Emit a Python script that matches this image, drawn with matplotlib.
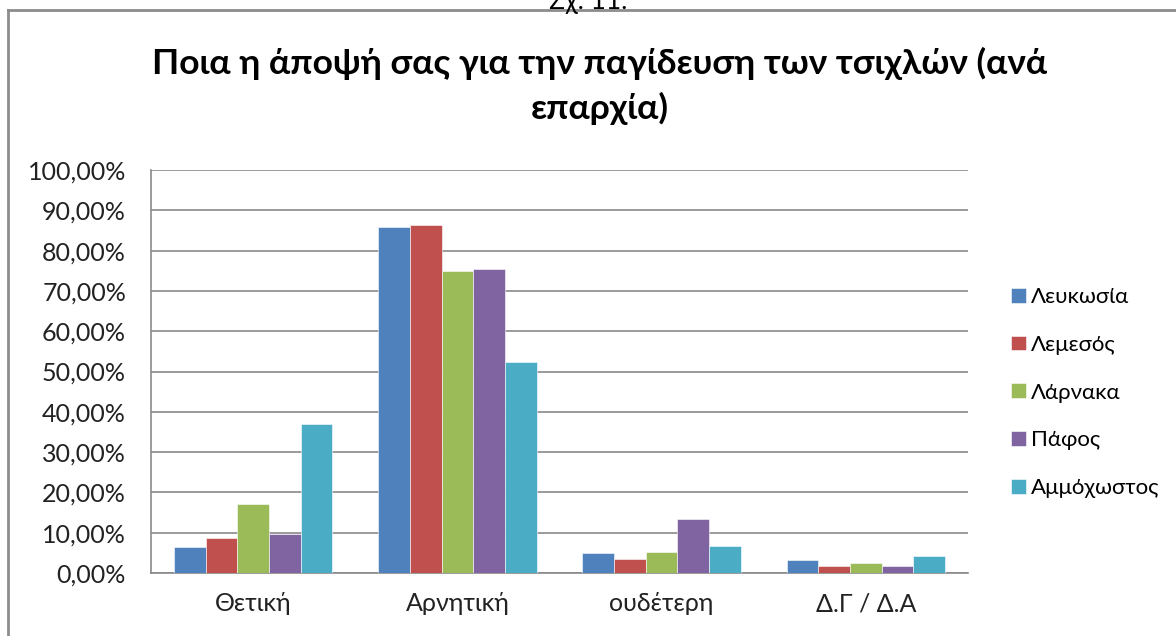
import matplotlib
matplotlib.use("Agg")
import matplotlib.pyplot as plt
import numpy as np
from matplotlib.ticker import FuncFormatter
from matplotlib.lines import Line2D

categories = ["Θετική", "Αρνητική", "ουδέτερη", "Δ.Γ / Δ.Α"]
series_names = ["Λευκωσία", "Λεμεσός", "Λάρνακα", "Πάφος", "Αμμόχωστος"]
lefkosia = [6.5, 85.8, 4.9, 3.2]
lemesos = [8.6, 86.3, 3.5, 1.8]
larnaka = [17.2, 75.0, 5.2, 2.4]
pafos = [9.6, 75.4, 13.3, 1.7]
ammochostos = [37.0, 52.4, 6.7, 4.2]
series_values = [lefkosia, lemesos, larnaka, pafos, ammochostos]
colors = ["#4F81BD", "#C0504D", "#9BBB59", "#8064A2", "#4BACC6"]
yticks = [0, 10, 20, 30, 40, 50, 60, 70, 80, 90, 100]

plt.rcParams['font.family'] = ['Lato', 'DejaVu Sans']

fig = plt.figure(figsize=(11.76, 6.36), dpi=100)
ax = fig.add_axes([151/1176, 1-573/636, 817/1176, 403/636])

x = np.arange(len(categories))
w = 0.155
for i, (name, vals, c) in enumerate(zip(series_names, series_values, colors)):
    ax.bar(x + (i - 2) * w, vals, width=w, color=c, label=name, zorder=3,
           edgecolor="white", linewidth=0.4)

ax.set_xlim(-0.5, len(categories) - 0.5)
ax.set_ylim(0, 100)
ax.set_yticks(yticks)
ax.yaxis.set_major_formatter(FuncFormatter(lambda v, p: f"{v:.2f}%".replace(".", ",")))
ax.set_xticks(x)
ax.set_xticklabels(categories)
ax.tick_params(axis='y', length=0, labelsize=18, colors="#222222", pad=18)
ax.tick_params(axis='x', length=0, labelsize=18, colors="#222222", pad=14)
ax.grid(axis='y', color="#8a8a8a", linewidth=1.2, zorder=0)
for s in ["top", "right"]:
    ax.spines[s].set_visible(False)
for s in ["left", "bottom"]:
    ax.spines[s].set_color("#8a8a8a")
    ax.spines[s].set_linewidth(1.2)

leg = fig.legend(loc="upper left", bbox_to_anchor=(1000/1176, 1-276/636),
                 frameon=False, fontsize=16, handlelength=0.65, handleheight=0.65,
                 handletextpad=0.25, labelspacing=1.25, borderpad=0)

fig.text(600/1176, 1-86/636,
         "Ποια η άποψή σας για την παγίδευση των τσιχλών (ανά\nεπαρχία)",
         ha="center", va="center", fontsize=25.5, fontweight="bold",
         linespacing=1.42, color="#000000")

fig.text(588/1176, 1-1/636, "Σχ. 11.", ha="center", va="center", fontsize=19, color="#000000")

# outer chart border
fig.add_artist(Line2D([8/1176, 8/1176], [0, 1-10/636], transform=fig.transFigure,
                      color="#8c8c8c", linewidth=2))
fig.add_artist(Line2D([8/1176, 1], [1-10/636, 1-10/636], transform=fig.transFigure,
                      color="#8c8c8c", linewidth=2))

fig.savefig("out.png", dpi=100)
